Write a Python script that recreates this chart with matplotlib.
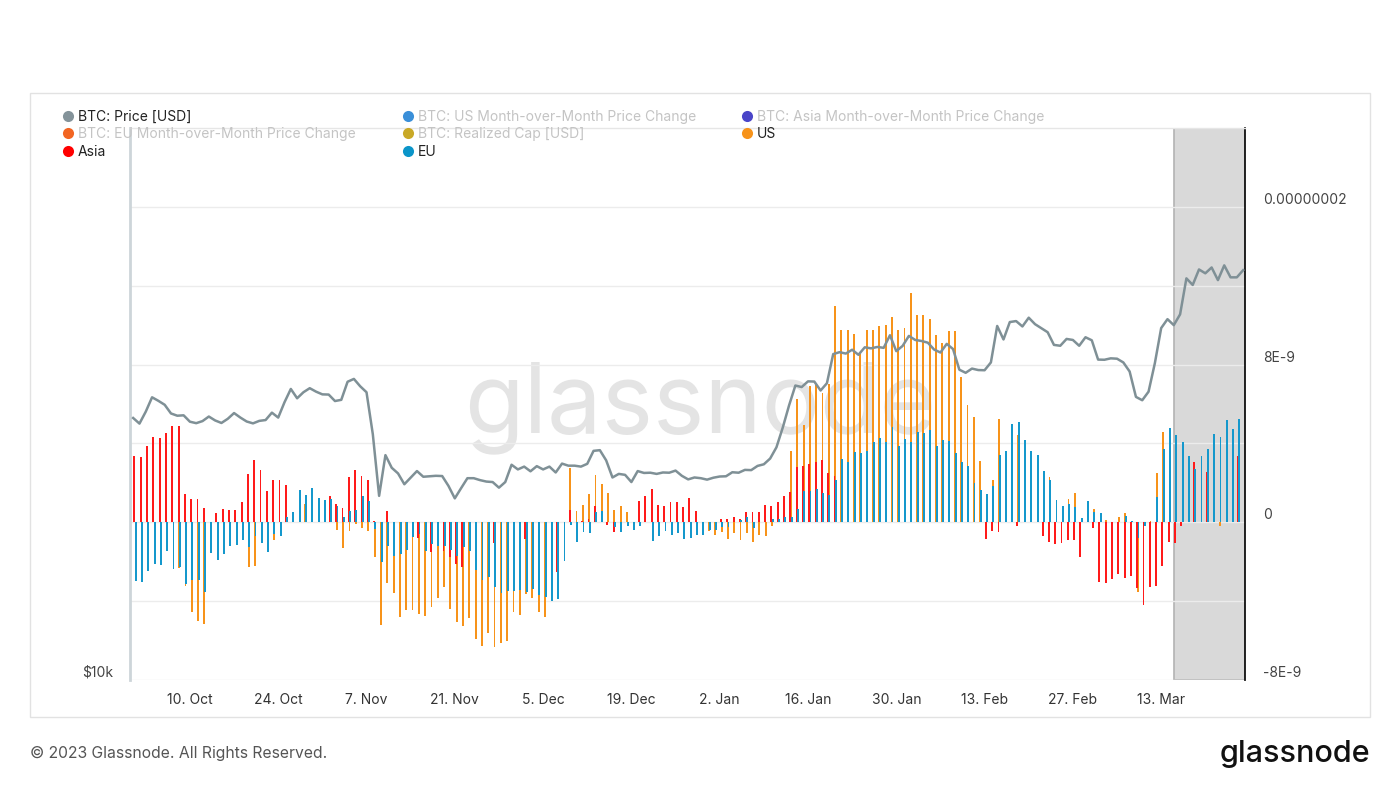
import numpy as np
import matplotlib
matplotlib.use("Agg")
import matplotlib.pyplot as plt
import matplotlib.dates as mdates
from matplotlib.transforms import ScaledTranslation, blended_transform_factory
from matplotlib.patches import Rectangle

plt.rcParams["font.family"] = ["Inter", "DejaVu Sans"]

# ---- data -------------------------------------------------------------
price_start = "2022-10-01"
price_usd = [
    # Oct
    19310, 19040, 19620, 20340, 20160, 19960, 19530, 19420, 19440, 19130,
    19060, 19160, 19380, 19190, 19070, 19270, 19550, 19330, 19140, 19050,
    19170, 19210, 19570, 19330, 20090, 20770, 20290, 20600, 20810, 20630, 20490,
    # Nov
    20480, 20150, 20210, 21150, 21300, 20910, 20600, 18540, 15880, 17590,
    17040, 16800, 16350, 16620, 16900, 16660, 16680, 16700, 16690, 16280,
    15780, 16190, 16600, 16600, 16520, 16460, 16440, 16210, 16440, 17170,
    # Dec
    16970, 17090, 16890, 17110, 16970, 17090, 16840, 17220, 17130, 17130,
    17090, 17210, 17780, 17810, 17360, 16630, 16780, 16740, 16440, 16900,
    16820, 16830, 16780, 16840, 16830, 16920, 16700, 16550, 16630, 16600, 16540,
    # Jan
    16620, 16670, 16680, 16850, 16830, 16950, 16940, 17120, 17190, 17440,
    17940, 18850, 19930, 20950, 20870, 21170, 21160, 20690, 21070, 22670,
    22780, 22700, 22920, 22630, 23060, 23000, 23080, 23030, 23770, 22840, 23140,
    # Feb
    23730, 23490, 23430, 23330, 22930, 22760, 23260, 22960, 21800, 21630,
    21860, 21780, 21770, 22200, 24330, 23520, 24570, 24630, 24300, 24840,
    24440, 24190, 23950, 23200, 23150, 23550, 23490, 23150,
    # Mar
    23650, 23470, 22360, 22350, 22430, 22410, 22200, 21700, 20360, 20190,
    20630, 22160, 24200, 24750, 24380, 25050, 27420, 26970, 28040, 27770,
    28180, 27300, 28330, 27490, 27490, 27990,
]

# month-over-month price change per region, daily, in units of 1e-9
bar_start = "2022-10-01"
us_mom = [
    0, 0, 0, 0, 0, 0, 0, -2.32, -3.21, -4.57,
    -4.99, -5.16, 0, 0, 0, 0, 0, 0, -2.25, -2.20,
    0, 0, -0.90, 0, 0, 0, 0, 0.93, 0, 0,
    0, 0, -0.39, -1.32, -0.42, -0.08, -0.30, -0.42, -1.78, -5.21,
    -3.10, -3.59, -4.82, -4.45, -4.45, -4.65, -4.74, -4.28, -3.86, -3.30,
    -4.40, -5.04, -5.28, -4.87, -5.92, -6.26, -5.63, -6.35, -6.14, -6.01,
    -4.57, -4.70, -3.64, -3.86, -4.57, -4.79, 0, -3.27, 0, 2.74,
    0.59, 0.90, 1.44, 2.42, 1.95, 1.47, 0.63, 0.81, 0.51, 0,
    0, 0, 0, 0, 0, 0, 0, 0, 0, 0,
    0, -0.42, -0.63, -0.51, -0.85, -0.54, -0.90, -0.56, -1.02, -0.64,
    -0.68, -0.17, 0, 0, 3.64, 6.23, 4.91, 6.89, 6.94, 6.55,
    7.02, 10.95, 9.76, 9.76, 9.56, 8.54, 9.76, 9.76, 9.98, 10.03,
    10.41, 9.76, 9.86, 11.64, 10.52, 10.52, 10.29, 9.48, 9.10, 9.68,
    9.68, 7.36, 5.96, 5.36, 3.11, 1.40, 2.12, 5.25, 0, 4.99,
    4.43, 0, 0, 0, 0, 2.28, 0, 0, 1.18, 1.47,
    0, 0, 0.68, 0, 0.12, 0.03, 0.25, 0.46, 0, -3.52,
    0, 0.08, 2.50, 4.60, 0, 3.42, 0, 0, 0, 0,
    0, 0, -0.17, 0, 0, 0,
]
asia_mom = [
    3.37, 3.30, 3.87, 4.31, 4.30, 4.53, 4.89, 4.89, 1.46, 1.17,
    1.17, 0.74, 0, 0.46, 0.68, 0.63, 0.63, 1.05, 2.47, 3.16,
    2.66, 1.57, 2.12, 2.17, 1.88, 0, 0, 0, 0, 0,
    0, 1.34, 0.93, 0.73, 2.30, 2.66, 2.37, 2.17, 0.08, 0,
    0.58, 0, 0, 0, 0, -0.80, 0, -1.49, 0, -1.44,
    -1.74, -2.12, -2.25, 0, 0, 0, 0, -1.07, 0, 0,
    0, 0, -0.85, 0, 0, 0, 0, -2.54, 0, 0.63,
    0, 0.08, 0.17, 0.81, 0, -0.12, -0.51, 0, 0, 0,
    1.10, 1.35, 1.69, 0.88, 0.81, 1.05, 1.05, 0.76, 1.22, 0.58,
    0, 0, 0, 0.15, 0.17, 0.27, 0.17, 0.52, 0.52, 0.52,
    0.86, 0.81, 1.03, 1.34, 1.52, 2.79, 2.84, 2.96, 3.08, 3.18,
    2.49, 2.37, 0, 0, 0, 0, 0, 0, 0, 0,
    0, 0, 0, 0, 0, 0, 0, 0, 0, 0,
    0, 0, 0, 0, 0, -0.85, -0.42, -0.51, 0, 0,
    -0.17, 0, 0, 0, -0.68, -1.02, -1.10, -1.07, -0.90, -0.90,
    -1.78, 0, -0.30, -3.05, -3.10, -2.88, -2.62, -2.84, -2.74, -3.33,
    -4.20, -3.30, -3.21, -2.20, -1.02, -1.07, -0.17, 0, 3.05, 0,
    2.54, 0, 0, 0, 0, 3.38,
]
eu_mom = [
    -2.96, -3.05, -2.45, -2.12, -2.15, -1.44, -2.39, -2.28, -3.13, -2.93,
    -2.93, -3.52, -1.56, -1.91, -1.61, -1.18, -1.13, -0.90, -1.27, -0.68,
    -1.07, -1.49, -0.59, -0.68, 0.25, 0.51, 1.64, 1.40, 1.76, 1.22,
    1.15, 1.18, 0.81, 0.25, 0.58, 0.63, 1.35, 1.10, -0.34, -2.03,
    -1.20, -1.69, -1.61, -1.39, -0.76, -0.59, -1.44, -1.10, -1.20, -1.18,
    -1.40, -1.69, -1.24, -1.44, -2.40, -2.93, -2.79, -3.27, -3.60, -3.47,
    -3.50, -3.43, -3.52, -3.38, -3.67, -3.81, -3.98, -3.89, -1.95, -0.12,
    -1.02, -0.51, -0.56, 0.51, 0.59, 0, -0.25, -0.51, -0.17, -0.39,
    -0.17, 0, -0.93, -0.68, -0.42, -0.63, -0.56, -0.85, -0.81, -0.63,
    -0.63, -0.39, -0.39, -0.25, -0.25, 0, 0.14, 0.25, -0.30, 0,
    0, 0.17, 0.17, 0.25, 0.25, 0.68, 1.57, 1.57, 1.69, 1.47,
    1.40, 2.12, 3.21, 3.08, 3.54, 3.52, 3.64, 4.09, 4.26, 4.06,
    4.82, 3.89, 4.23, 4.06, 4.57, 4.53, 4.70, 3.89, 4.18, 4.11,
    3.52, 3.08, 2.88, 2.00, 1.64, 1.44, 1.86, 3.42, 3.64, 4.99,
    5.08, 4.18, 3.64, 3.42, 2.59, 2.12, 1.15, 0.85, 0.93, 0.76,
    0.22, 1.10, 0.54, 0.46, 0, 0, 0, 0.34, 0.08, -0.80,
    -0.17, 0, 1.27, 3.72, 4.79, 4.43, 4.06, 3.35, 2.71, 3.38,
    3.72, 4.48, 4.31, 5.21, 4.74, 5.25,
]

x_tick_dates = ["2022-10-10", "2022-10-24", "2022-11-07", "2022-11-21",
                "2022-12-05", "2022-12-19", "2023-01-02", "2023-01-16",
                "2023-01-30", "2023-02-13", "2023-02-27", "2023-03-13"]
x_tick_labels = ["10. Oct", "24. Oct", "7. Nov", "21. Nov", "5. Dec", "19. Dec",
                 "2. Jan", "16. Jan", "30. Jan", "13. Feb", "27. Feb", "13. Mar"]
right_ticks = [-8e-9, 0, 8e-9, 1.6e-8]
right_tick_labels = ["-8E-9", "0", "8E-9", "0.00000002"]
highlight_start = "2023-03-15"

legend_names = [
    "BTC: Price [USD]", "BTC: US Month-over-Month Price Change",
    "BTC: Asia Month-over-Month Price Change",
    "BTC: EU Month-over-Month Price Change", "BTC: Realized Cap [USD]", "US",
    "Asia", "EU",
]
legend_colors = ["#84939a", "#3a8fd9", "#4a45c8", "#f26522", "#c9a927",
                 "#f7931a", "#ff0000", "#0b95c9"]
legend_active = [True, False, False, False, False, True, True, True]

# ---- figure -----------------------------------------------------------
W, H = 1400, 788
fig = plt.figure(figsize=(W / 100, H / 100), dpi=100)
fig.patch.set_facecolor("white")

US_C, ASIA_C, EU_C, PRICE_C = "#f7931a", "#ff1a1a", "#1598cc", "#7f9096"

ax = fig.add_axes([130 / W, 108 / H, 1115 / W, 552 / H])
ax.set_facecolor("none")

bar_days = mdates.date2num(np.datetime64(bar_start) + np.arange(len(us_mom)))
scale = 1e-9
ax.bar(bar_days + 0.3, np.array(us_mom) * scale, width=0.3, color=US_C,
       linewidth=0, zorder=2)
ax.bar(bar_days + 0.2, np.array(asia_mom) * scale, width=0.3, color=ASIA_C,
       linewidth=0, zorder=2.1)
ax.bar(bar_days + 0.4, np.array(eu_mom) * scale, width=0.3, color=EU_C,
       linewidth=0, zorder=2.2)

x0 = mdates.date2num(np.datetime64("2022-09-30T12:00"))
x1 = mdates.date2num(np.datetime64("2023-03-26T07:00"))
ax.set_xlim(x0, x1)
ax.set_ylim(-8e-9, 20e-9)

ax.axvspan(mdates.date2num(np.datetime64(highlight_start)), x1,
           facecolor="#d9d9d9", edgecolor="#b3b3b3", linewidth=1.2, zorder=0.2)

ax.set_yticks(right_ticks)
ax.set_yticks([-4e-9, 4e-9, 12e-9], minor=True)
ax.grid(which="both", axis="y", color="#ececec", linewidth=1, zorder=0.1)

ax.set_xticks(mdates.date2num(np.array(x_tick_dates, dtype="datetime64[D]")))
ax.set_xticklabels(x_tick_labels)
ax.tick_params(axis="x", length=0, pad=9, labelsize=10, colors="#333333")

for s in ax.spines.values():
    s.set_visible(False)
ax.spines["left"].set_visible(True)
ax.spines["left"].set_color("#cdd5d9")
ax.spines["left"].set_linewidth(2)
ax.spines["right"].set_visible(True)
ax.spines["right"].set_color("#111111")
ax.spines["right"].set_linewidth(1.3)
ax.spines["top"].set_visible(True)
ax.spines["top"].set_color("#e6e6e6")
ax.spines["top"].set_linewidth(1)

# watermark behind the data
ax.text(0.5, 1 - 432 / H, "glassnode", transform=fig.transFigure, ha="center",
        va="baseline", fontsize=70, color="#e4e4e4", zorder=0.5)

# price on log axis
ax2 = ax.twinx()
price_days = mdates.date2num(np.datetime64(price_start) + np.arange(len(price_usd)))
ax2.plot(price_days, price_usd, color=PRICE_C, linewidth=1.8, zorder=3)
ax2.set_yscale("log")
ax2.set_ylim(10000, 40000)
ax2.set_xlim(x0, x1)
ax2.set_yticks([])
ax2.minorticks_off()
for s in ax2.spines.values():
    s.set_visible(False)

# twinx re-enables left ticks on ax, so switch them off afterwards
for a in (ax, ax2):
    a.tick_params(axis="y", which="both", left=False, right=False,
                  labelleft=False, labelright=False, length=0)

ytr = blended_transform_factory(ax.transAxes, ax.transData)
lift = ScaledTranslation(0, 7 / 100, fig.dpi_scale_trans)
for v, lbl in zip(right_ticks, right_tick_labels):
    ax.text(1.016, v, lbl, transform=ytr + lift, ha="left", va="center",
            fontsize=10, color="#444444")
ytr2 = blended_transform_factory(ax2.transAxes, ax2.transData)
ax2.text(-0.015, 10000, "$10k", transform=ytr2 + lift, ha="right", va="center",
         fontsize=10, color="#444444")

# overlay: frame, legend, footer in pixel coordinates
ov = fig.add_axes([0, 0, 1, 1])
ov.set_xlim(0, W)
ov.set_ylim(H, 0)
ov.axis("off")
ov.patch.set_alpha(0)
ov.add_patch(Rectangle((30, 93), 1340, 624, fill=False, edgecolor="#e2e2e2",
                       linewidth=1))

col_x = [68, 408, 747]
row_y = [116.5, 134, 151.5]
for i, (name, c, on) in enumerate(zip(legend_names, legend_colors, legend_active)):
    cx = col_x[i % 3]
    cy = row_y[i // 3]
    ov.plot(cx, cy - 1, "o", color=c, markersize=8, markeredgewidth=0)
    ov.text(cx + 10, cy, name, ha="left", va="center", fontsize=10,
            color="#222222" if on else "#c4c4c4")

ov.text(30, 753, "\u00a9 2023 Glassnode. All Rights Reserved.", ha="left",
        va="center", fontsize=11.3, color="#555555")
ov.text(1370, 762, "glassnode", ha="right", va="baseline", fontsize=22,
        fontweight="medium", color="#111111")

fig.savefig("out.png", dpi=100)
